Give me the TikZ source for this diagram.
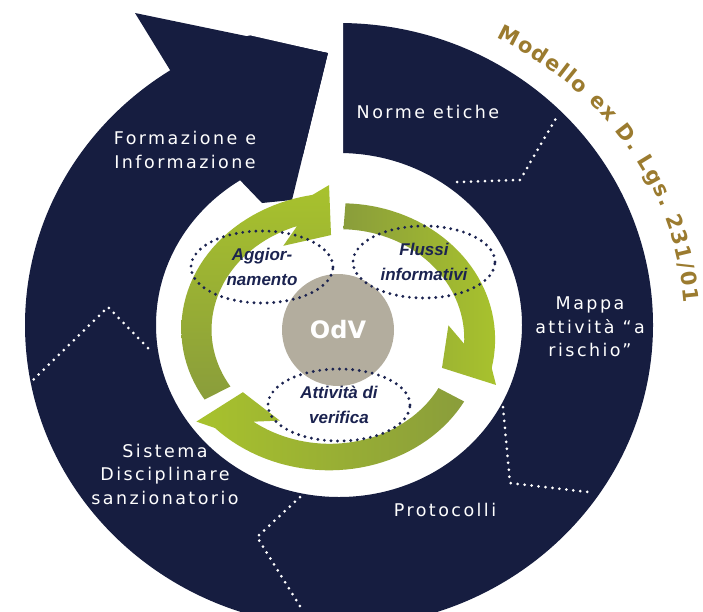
\documentclass[tikz,border=0pt]{standalone}
\usepackage{fontspec}
\setmainfont{DejaVu Sans}
\newfontfamily\segfont[LetterSpace=14]{DejaVu Sans}
\newfontfamily\ovalfont{Liberation Sans}
\usepackage{xcolor}
\usetikzlibrary{shapes.geometric,calc,decorations.text}

\definecolor{navy}{HTML}{161D40}
\definecolor{gLime}{HTML}{A8C22D}
\definecolor{gOlive}{HTML}{8A9D3B}
\definecolor{odvgray}{HTML}{B3AD9E}
\definecolor{goldtext}{HTML}{9B7B2F}
\definecolor{dotnavy}{HTML}{1B2350}

% centre of the green cycle
\def\gcx{335}
\def\gcy{334}
% #1 tail angle, #2 front angle, #3 fill options
\newcommand{\cyclearrow}[3]{%
  \path[#3] plot[domain=#1:#2+6, samples=40] ({\gcx+1.15*(131+10*(#1-\x)/(#1-(#2)))*cos(\x)}, {\gcy-(131+10*(#1-\x)/(#1-(#2)))*sin(\x)})
    -- ({\gcx+1.15*149*cos(#2)}, {\gcy-149*sin(#2)})
    -- ({\gcx+1.15*99*cos(#2)}, {\gcy-99*sin(#2)})
    -- ({\gcx+1.15*99*cos(#2+25)}, {\gcy-99*sin(#2+25)})
    -- plot[domain=#2+15:#1, samples=40] ({\gcx+1.15*(105+9*(#1-\x)/(#1-(#2)))*cos(\x)}, {\gcy-(105+9*(#1-\x)/(#1-(#2)))*sin(\x)})
    -- cycle;}

\begin{document}
\begin{tikzpicture}[x=1pt, y=-1pt,
    segtext/.style={text=white, align=center, font=\segfont\fontsize{17.5}{23.5}\selectfont},
    divider/.style={white, line width=3pt, line cap=round, dash pattern=on 0pt off 7pt},
    oval/.style={ellipse, draw=dotnavy, line width=3.2pt, line cap=round, dash pattern=on 0pt off 6.6pt,
      minimum width=142pt, minimum height=72pt, inner sep=0pt, align=center, text=dotnavy,
      font=\ovalfont\bfseries\itshape\fontsize{17}{25}\selectfont}]
    % Frame
    \useasboundingbox (0,0) rectangle (703,611);
    \fill[white] (0,0) rectangle (703,611);
    \clip (0,0) rectangle (703,611);

    % Outer ring
    \fill[navy, even odd rule] (339,325) ellipse [x radius=314pt, y radius=302pt]
        (339,325) ellipse [x radius=183pt, y radius=172pt];
    \fill[white] (240,-5) -- (240,33) -- (328,53) -- (292,200) -- (292,215) -- (343,215) -- (343,-5) -- cycle;
    \fill[navy] (170,70) -- (135,13) -- (328,53) -- (292,200) -- (262,203) -- (237,177) -- cycle;

    % Dotted dividers
    \draw[divider] (457,182) -- (520,180) -- (558,115);
    \draw[divider] (503,407) -- (510,483) -- (588,492);
    \draw[divider] (300,497) -- (257,537) -- (303,611);
    \draw[divider] (148,348) -- (108,307) -- (33,380);

    % Segment labels
    \node[segtext] (formaz) at (185,150) {Formazione e\\Informazione};
    \node[segtext] (norme) at (428,112) {Norme etiche};
    \node[segtext] (mappa) at (590,327) {Mappa\\attività “a\\rischio”};
    \node[segtext] (protoc) at (445,510) {Protocolli};
    \node[segtext] (sistema) at (165,474) {Sistema\\Disciplinare\\sanzionatorio};

    % Green cycle
    \cyclearrow{210}{92}{bottom color=gOlive, top color=gLime}
    \cyclearrow{86}{-20}{left color=gOlive, right color=gLime}
    \cyclearrow{-31}{-144}{left color=gLime, right color=gOlive}

    % OdV
    \node[circle, fill=odvgray, minimum size=112pt, inner sep=0pt, text=white,
      font=\bfseries\fontsize{24}{24}\selectfont] (odv) at (338,330) {OdV};

    % Ovals
    \node[oval] (aggiorn) at (262,267) {Aggior-\\namento};
    \node[oval] (flussi) at (424,262) {Flussi\\informativi};
    \node[oval] (verifica) at (339,405) {Attività di\\verifica};

    % Title on the arc
    \path[decorate, decoration={text along path, text color=goldtext, text align=fit to path,
        text={|\bfseries\fontsize{21}{21}\selectfont|Modello ex D. Lgs. 231/01}}]
        (339,325) ++(63:346pt and 322pt) arc[start angle=63, end angle=4, x radius=346pt, y radius=322pt];
\end{tikzpicture}
\end{document}
